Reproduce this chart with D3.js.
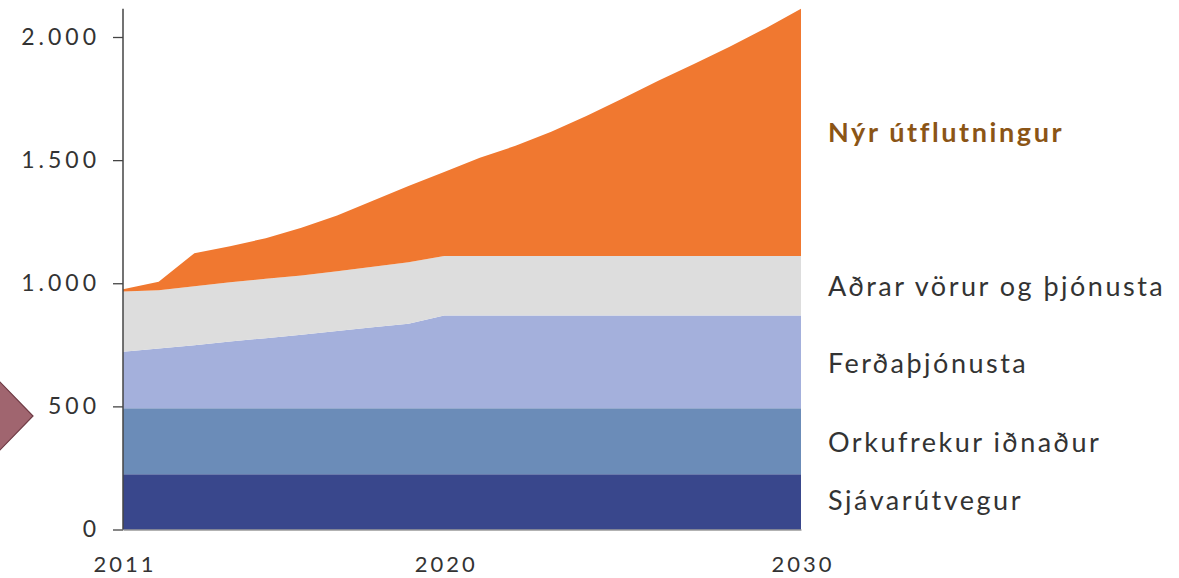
<!DOCTYPE html>
<html>
<head>
<meta charset="utf-8">
<script src="https://cdn.jsdelivr.net/npm/d3@7"></script>
<style>
  html, body { margin: 0; padding: 0; background: #ffffff; }
  svg { display: block; }
  text { font-family: Lato, "Open Sans", sans-serif; }
</style>
</head>
<body>
<svg id="chart" width="1179" height="578"></svg>
<script>
// ---- data ----
const years = [2011,2012,2013,2014,2015,2016,2017,2018,2019,2020,2021,2022,2023,2024,2025,2026,2027,2028,2029,2030];
const sjavarutvegur = [224,224,224,224,224,224,224,224,224,224,224,224,224,224,224,224,224,224,224,224];
const orkufrekur    = [268,268,268,268,268,268,268,268,268,268,268,268,268,268,268,268,268,268,268,268];
const ferdathjonusta= [230,243,256,271,285,299,314,329,344,377,377,377,377,377,377,377,377,377,377,377];
const adrar         = [244,237,240,241,241,240,243,246,249,242,242,242,242,242,242,242,242,242,242,242];
const nyr           = [10,34,134,146,165,194,226,268,310,341,399,447,504,569,639,711,779,849,924,1004];
const seriesNames = ["Sjávarútvegur","Orkufrekur iðnaður","Ferðaþjónusta","Aðrar vörur og þjónusta","Nýr útflutningur"];
const yTicks = [0,500,1000,1500,2000];
const xTicks = [2011,2020,2030];

// ---- styles ----
const colors = ["#39478c","#6b8cb8","#a4b0dc","#dddddd","#f07830"];
const keys = ["s0","s1","s2","s3","s4"];
const seriesArrays = [sjavarutvegur, orkufrekur, ferdathjonusta, adrar, nyr];
const table = years.map((yr,i) => {
  const row = {year: yr};
  keys.forEach((k,j) => row[k] = seriesArrays[j][i]);
  return row;
});

const svg = d3.select("#chart");
const x = d3.scaleLinear().domain([2011,2030]).range([123,801]);
const y = d3.scaleLinear().domain([0,2000]).range([529.5,37]);

const stacked = d3.stack().keys(keys)(table);
const area = d3.area()
  .x(d => x(d.data.year))
  .y0(d => y(d[0]))
  .y1(d => y(d[1]))
  .curve(d3.curveLinear);

svg.append("g").selectAll("path").data(stacked).join("path")
  .attr("d", area)
  .attr("fill", (d,i) => colors[i]);

// decorative diamond on left edge
svg.append("path")
  .attr("d", "M-34,416 L0,382 L33,416 L0,450 Z")
  .attr("fill", "#a0656f")
  .attr("stroke", "#6e3a44")
  .attr("stroke-width", 1.2);

// y axis
const loc = d3.formatLocale({decimal: ",", thousands: ".", grouping: [3], currency: ["",""]});
const fmt = loc.format(",d");
const yAxis = svg.append("g").attr("transform", "translate(123,0)")
  .call(d3.axisLeft(y).tickValues(yTicks).tickFormat(fmt).tickSize(10).tickPadding(13));
yAxis.select(".domain").remove();
yAxis.selectAll(".tick line").attr("stroke", "#444").attr("stroke-width", 1.3);
yAxis.selectAll(".tick text").attr("fill", "#333").style("font-size", "23px").style("font-family", "Lato, sans-serif").style("letter-spacing", "4px");

const totalMax = d3.max(stacked[stacked.length-1], d => d[1]);
svg.append("line")
  .attr("x1", 123).attr("x2", 123)
  .attr("y1", y(0)).attr("y2", y(totalMax))
  .attr("stroke", "#444").attr("stroke-width", 1.5);

// x axis
const xAxis = svg.append("g").attr("transform", `translate(0,${y(0)})`)
  .call(d3.axisBottom(x).tickValues(xTicks).tickFormat(d3.format("d")).tickSize(0).tickPadding(27));
xAxis.select(".domain").attr("stroke", "#666").attr("stroke-width", 1);
xAxis.selectAll(".tick text").attr("fill", "#333").attr("dx", "1.5px").style("font-size", "22px").style("font-family", "Lato, sans-serif").style("letter-spacing", "3px");

// series labels
const labelY = [510, 452, 373, 296, 142];
svg.append("g").selectAll("text").data(seriesNames).join("text")
  .attr("x", 828)
  .attr("y", (d,i) => labelY[i])
  .attr("fill", (d,i) => i === 4 ? "#8b5516" : "#333")
  .style("font-size", "27px")
  .style("font-weight", (d,i) => i === 4 ? "bold" : "normal")
  .style("letter-spacing", (d,i) => i === 4 ? "2.6px" : "2.5px")
  .text(d => d);
</script>
</body>
</html>
